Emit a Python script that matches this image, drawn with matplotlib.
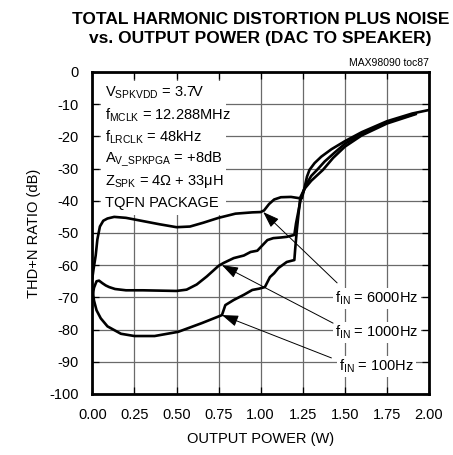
import matplotlib
matplotlib.use("Agg")
import matplotlib.pyplot as plt
from matplotlib.patches import Rectangle

plt.rcParams["font.family"] = ["Liberation Sans Narrow", "Liberation Sans", "DejaVu Sans"]
plt.rcParams["mathtext.default"] = "regular"
plt.rcParams["axes.unicode_minus"] = False

# THD+N vs output power
p_6000 = [0.0, 0.008, 0.02, 0.03, 0.045, 0.065, 0.09, 0.13, 0.2, 0.3, 0.4, 0.5, 0.58,
          0.66, 0.75, 0.85, 0.95, 1.0, 1.02, 1.05, 1.08, 1.12, 1.18, 1.23, 1.245,
          1.26, 1.275, 1.29, 1.32, 1.36, 1.42, 1.5, 1.6, 1.75, 1.9, 2.0]
thd_6000 = [-64, -61, -57, -52, -48, -46.2, -45.5, -45, -45.3, -46.3, -47.3, -48.2, -48,
            -46.8, -45.3, -44, -43.6, -43.5, -43, -41, -39.6, -38.9, -38.8, -39.2, -39.2,
            -36, -32.5, -30.4, -28.3, -26.3, -24, -21.5, -18.7, -15.3, -12.9, -11.8]

p_1000 = [0.0, 0.01, 0.025, 0.04, 0.06, 0.08, 0.1, 0.135, 0.2, 0.3, 0.4, 0.5, 0.56,
          0.62, 0.68, 0.75, 0.78, 0.84, 0.9, 0.94, 0.98, 1.0, 1.04, 1.075, 1.12,
          1.155, 1.2, 1.21, 1.225, 1.24, 1.27, 1.3, 1.335, 1.38, 1.44, 1.5, 1.6,
          1.75, 1.92]
thd_1000 = [-70, -67, -65, -64.8, -65.6, -66.3, -66.8, -67.4, -67.8, -67.8, -67.9, -68, -67.6,
            -66, -63.5, -60.2, -59.3, -57.8, -57, -55.9, -55.5, -54.4, -52.2, -51.6, -51.4,
            -51.2, -50.6, -47, -43, -39, -35, -32.3, -30.4, -27.8, -25, -22.3, -19.2,
            -15.7, -12.9]

p_100 = [0.0, 0.01, 0.025, 0.05, 0.09, 0.17, 0.25, 0.37, 0.51, 0.65, 0.77, 0.79,
         0.84, 0.9, 0.95, 0.99, 1.025, 1.055, 1.08, 1.105, 1.155, 1.2, 1.205, 1.215,
         1.225, 1.235, 1.26, 1.3, 1.37, 1.43, 1.5, 1.6, 1.75, 1.92]
thd_100 = [-67, -71, -74, -76.5, -79, -81.3, -82, -82, -80.7, -78, -75.5, -72.4,
           -70.8, -69.2, -67.7, -67.3, -66.8, -63.7, -62.5, -60.9, -59, -58.4, -55, -49,
           -44, -39, -36.3, -33.8, -30.4, -26.7, -23.2, -19.7, -16, -13.1]

series_labels = [r"f$_{IN}$ = 6000Hz", r"f$_{IN}$ = 1000Hz", r"f$_{IN}$ = 100Hz"]

conditions = [
    r"V$_{SPKVDD}$ = 3.7V",
    r"f$_{MCLK}$ = 12.288MHz",
    r"f$_{LRCLK}$ = 48kHz",
    r"A$_{V\_SPKPGA}$ = +8dB",
    r"Z$_{SPK}$ = 4Ω + 33μH",
    "TQFN PACKAGE",
]

x_ticks = [0.0, 0.25, 0.5, 0.75, 1.0, 1.25, 1.5, 1.75, 2.0]
y_ticks = list(range(-100, 1, 10))

fig = plt.figure(figsize=(4.53, 4.55), dpi=100)
ax = fig.add_axes([0.2038, 0.1341, 0.7433, 0.7077])

ax.plot(p_6000, thd_6000, color="black", lw=1.9, solid_joinstyle="round")
ax.plot(p_1000, thd_1000, color="black", lw=1.9, solid_joinstyle="round")
ax.plot(p_100, thd_100, color="black", lw=1.9, solid_joinstyle="round")

ax.set_xlim(0, 2.0)
ax.set_ylim(-100, 0)
ax.set_xticks(x_ticks)
ax.set_xticklabels([f"{t:.2f}" for t in x_ticks])
ax.set_yticks(y_ticks)
ax.set_yticklabels([str(t) for t in y_ticks])
ax.grid(True, color="#6a6a6a", lw=0.9)
ax.set_axisbelow(True)
ax.tick_params(direction="in", length=5, width=0.9, top=True, right=True,
               labelsize=10.5, pad=10)
for spine in ax.spines.values():
    spine.set_linewidth(2.0)

# white panel behind the test conditions
ax.add_patch(Rectangle((0.027, 0.556), 0.37, 0.416, transform=ax.transAxes,
                       facecolor="white", edgecolor="none", zorder=1))
for i, line in enumerate(conditions):
    ax.text(0.038, 0.935 - i * 0.0685, line, transform=ax.transAxes,
            fontsize=10.5, va="center", ha="left", zorder=3)

# curve labels with arrows
label_y = [-71.7, -82.2, -92.8]
tips = [(1.015, -43.5), (0.77, -60.0), (0.77, -75.5)]
tails = [(1.454, -65.5), (1.43, -78.0), (1.42, -88.8)]
for lab, ly, tip, tail in zip(series_labels, label_y, tips, tails):
    ax.text(1.69, ly, lab, fontsize=10.5, ha="center", va="baseline", zorder=3,
            bbox=dict(facecolor="white", edgecolor="none", pad=1.5))
    ax.annotate("", xy=tip, xytext=tail,
                arrowprops=dict(arrowstyle="-|>,head_length=1.0,head_width=0.35",
                                color="black", lw=0.7, shrinkA=0, shrinkB=0),
                zorder=4)

ax.text(1.0, 1.012, "MAX98090 toc87", transform=ax.transAxes, fontsize=7.5,
        ha="right", va="bottom")

ax.set_xlabel("OUTPUT POWER (W)", fontsize=10.5, labelpad=7)
ax.set_ylabel("THD+N RATIO (dB)", fontsize=10.5, labelpad=6)
ax.set_title("TOTAL HARMONIC DISTORTION PLUS NOISE\nvs. OUTPUT POWER (DAC TO SPEAKER)",
             fontsize=12.5, fontweight="bold", pad=21, linespacing=1.3)

fig.savefig("out.png", dpi=100)
